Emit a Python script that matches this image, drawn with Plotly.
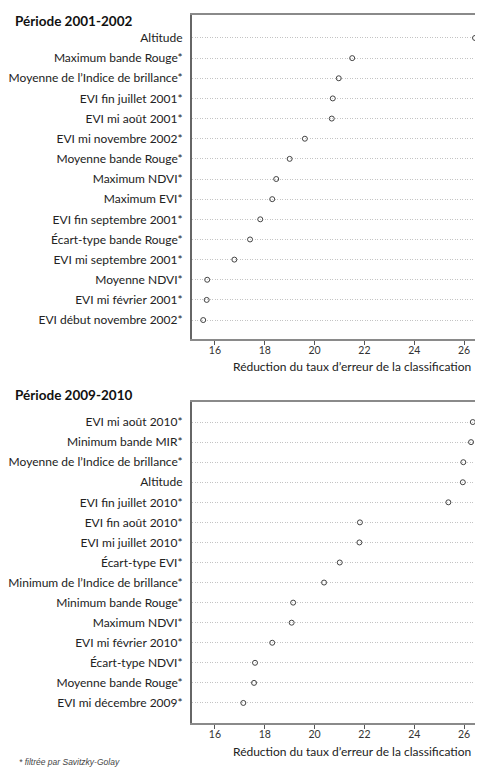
import plotly.graph_objects as go

# ---- data ----
labels_2001 = [
    "Altitude",
    "Maximum bande Rouge*",
    "Moyenne de l\u2019Indice de brillance*",
    "EVI fin juillet 2001*",
    "EVI mi août 2001*",
    "EVI mi novembre 2002*",
    "Moyenne bande Rouge*",
    "Maximum NDVI*",
    "Maximum EVI*",
    "EVI fin septembre 2001*",
    "Écart-type bande Rouge*",
    "EVI mi septembre 2001*",
    "Moyenne NDVI*",
    "EVI mi février 2001*",
    "EVI début novembre 2002*",
]
values_2001 = [26.44, 21.51, 20.97, 20.73, 20.69, 19.61, 19.00, 18.46, 18.30,
               17.82, 17.41, 16.78, 15.69, 15.67, 15.53]

labels_2009 = [
    "EVI mi août 2010*",
    "Minimum bande MIR*",
    "Moyenne de l\u2019Indice de brillance*",
    "Altitude",
    "EVI fin juillet 2010*",
    "EVI fin août 2010*",
    "EVI mi juillet 2010*",
    "Écart-type EVI*",
    "Minimum de l\u2019Indice de brillance*",
    "Minimum bande Rouge*",
    "Maximum NDVI*",
    "EVI mi février 2010*",
    "Écart-type NDVI*",
    "Moyenne bande Rouge*",
    "EVI mi décembre 2009*",
]
values_2009 = [26.35, 26.28, 25.97, 25.95, 25.37, 21.82, 21.80, 21.01, 20.38,
               19.14, 19.08, 18.30, 17.61, 17.57, 17.14]

x_ticks = [16, 18, 20, 22, 24, 26]
titles = ["Période 2001-2002", "Période 2009-2010"]
x_title = "Réduction du taux d\u2019erreur de la classification"
footnote = "* filtrée par Savitzky-Golay"

OFF = 8  # page body margin
W, H = 483 - OFF, 768 - OFF
L = 192 - OFF
FONT = "Lato"
TXT = "#222222"

fig = go.Figure()

def add_panel(labels, values, xa, ya):
    idx = list(range(len(labels)))
    fig.add_trace(go.Scatter(
        x=values, y=idx, xaxis=xa, yaxis=ya, mode="markers",
        marker=dict(symbol="circle-open", size=5, color="#444444",
                    line=dict(width=1, color="#444444")),
        showlegend=False, hoverinfo="x+text", text=labels, cliponaxis=False,
    ))

add_panel(labels_2001, values_2001, "x", "y")
add_panel(labels_2009, values_2009, "x2", "y2")

def py(px):
    return 1 - (px - OFF) / H

def pxx(px):
    return (px - OFF - L) / (W - L)

xr = [15.08, 26.76]
xcommon = dict(range=xr, tickvals=x_ticks, ticks="outside", ticklen=4,
               tickcolor="#555555", tickwidth=1, showgrid=False, zeroline=False,
               showline=True, linecolor="#8a8a8a", linewidth=1.5, mirror=True,
               ticklabelstandoff=-3,
               tickfont=dict(family=FONT, size=10.5, color="#333333"))
ycommon = dict(showgrid=True, gridcolor="#c4c4c4", griddash="1px,1.5px", gridwidth=1,
               zeroline=False, showline=True, linecolor="#666666", linewidth=2,
               ticks="", ticklabelstandoff=5,
               tickfont=dict(family=FONT, size=12, color=TXT))

fig.update_layout(
    width=W, height=H,
    margin=dict(l=L, r=0, t=0, b=0),
    paper_bgcolor="white", plot_bgcolor="white",
    font=dict(family=FONT, color=TXT),
    xaxis=dict(domain=[0, 1], anchor="y", **xcommon),
    xaxis2=dict(domain=[0, 1], anchor="y2", **xcommon),
    yaxis=dict(domain=[py(339), py(15)], anchor="x",
               tickvals=list(range(len(labels_2001))), ticktext=labels_2001,
               range=[14.94, -1.14], **ycommon),
    yaxis2=dict(domain=[py(723), py(402)], anchor="x2",
                tickvals=list(range(len(labels_2009))), ticktext=labels_2009,
                range=[15, -1], **ycommon),
)

ann = []
for t, ypx in zip(titles, [21, 395]):
    ann.append(dict(text="<b>" + t + "</b>", x=pxx(13), xref="paper",
                    y=py(ypx), yref="paper", xanchor="left", yanchor="middle",
                    showarrow=False, font=dict(family=FONT, size=13.5, color="#111111")))
for ypx in [366, 751]:
    ann.append(dict(text=x_title, xref="paper", yref="paper",
                    x=pxx(351.5), y=py(ypx), xanchor="center",
                    yanchor="middle", showarrow=False,
                    font=dict(family=FONT, size=12, color=TXT)))
ann.append(dict(text="<i>" + footnote + "</i>", xref="paper", yref="paper",
                x=pxx(17), y=py(762), xanchor="left", yanchor="middle",
                showarrow=False,
                font=dict(family="Liberation Sans", size=8.5, color="#444444")))

fig.update_layout(annotations=ann)
fig.write_html("out.html")
